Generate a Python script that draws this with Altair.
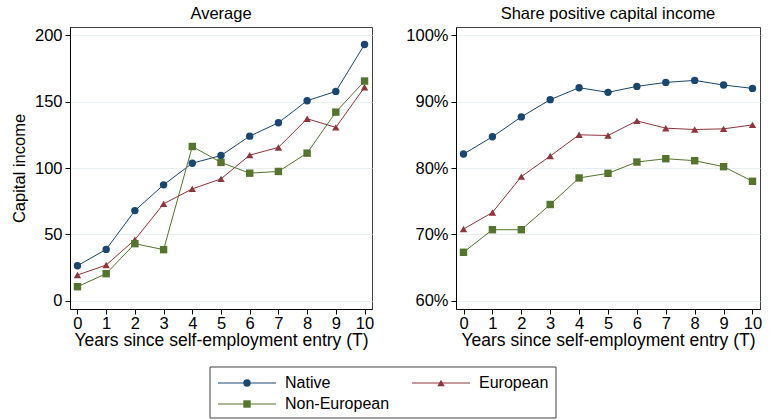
import altair as alt
import pandas as pd

years = list(range(11))
series = ["Native", "European", "Non-European"]

avg_native = [26.4, 38.7, 67.9, 87.3, 103.6, 109.4, 124.0, 134.1, 150.7, 157.7, 193.0]
avg_european = [19.4, 26.9, 46.0, 73.0, 84.3, 91.8, 109.7, 115.5, 137.1, 130.6, 160.8]
avg_noneuropean = [10.6, 20.4, 43.0, 38.5, 116.2, 104.2, 96.1, 97.4, 111.2, 142.1, 165.5]

share_native = [82.1, 84.7, 87.7, 90.3, 92.1, 91.4, 92.3, 92.9, 93.2, 92.5, 92.0]
share_european = [70.8, 73.3, 78.7, 81.8, 85.0, 84.9, 87.1, 86.0, 85.8, 85.9, 86.5]
share_noneuropean = [67.3, 70.7, 70.7, 74.5, 78.5, 79.2, 80.9, 81.4, 81.1, 80.2, 78.0]

avg_ticks = [0, 50, 100, 150, 200]
share_ticks = [0.6, 0.7, 0.8, 0.9, 1.0]

colors = ["#1a476f", "#90353b", "#55752f"]
shapes = ["circle", "triangle-up", "square"]
FONT = "Liberation Sans"


def long(vals_list, scale=1.0):
    rows = []
    for s, vals in zip(series, vals_list):
        for t, v in zip(years, vals):
            rows.append({"T": t, "value": v * scale, "group": s})
    return pd.DataFrame(rows)


avg_df = long([avg_native, avg_european, avg_noneuropean])
share_df = long([share_native, share_european, share_noneuropean], 0.01)

color = alt.Color("group:N", scale=alt.Scale(domain=series, range=colors), legend=None)
shape = alt.Shape("group:N", scale=alt.Scale(domain=series, range=shapes), legend=None)

xenc = alt.X(
    "T:Q",
    scale=alt.Scale(domain=[-0.26, 10.26], nice=False, zero=False),
    axis=alt.Axis(values=years, title="Years since self-employment entry (T)",
                  grid=False, format="d", labelFlush=False, titlePadding=0,
                  labelPadding=1, titleFontSize=17.5),
)


def panel(df, title, yenc, width):
    base = alt.Chart(df).encode(x=xenc, y=yenc, color=color)
    lines = base.mark_line(strokeWidth=1)
    pts = base.mark_point(filled=True, size=55, opacity=1).encode(shape=shape)
    return alt.layer(lines, pts).properties(
        width=width, height=282,
        title=alt.TitleParams(title, fontSize=16.5, fontWeight="normal", font=FONT,
                              color="black", anchor="middle", offset=5),
    )


left = panel(
    avg_df, "Average",
    alt.Y("value:Q", scale=alt.Scale(domain=[-6.2, 206.2], nice=False, zero=False),
          axis=alt.Axis(values=avg_ticks, title="Capital income", titlePadding=7)),
    302,
)
right = panel(
    share_df, "Share positive capital income",
    alt.Y("value:Q", scale=alt.Scale(domain=[0.5875, 1.0125], nice=False, zero=False),
          axis=alt.Axis(values=share_ticks, format=".0%", title=None)),
    304,
)

top = alt.hconcat(left, right, spacing=30).resolve_scale(x="independent", y="independent")

leg_df = pd.DataFrame({
    "group": series,
    "col": [i % 2 for i in range(len(series))],
    "row": [i // 2 for i in range(len(series))],
})
box_df = pd.DataFrame({"box": [0]})
LEFT = 140
lx = alt.X("col:Q", scale=alt.Scale(domain=[0, 1], range=[LEFT + 37, LEFT + 231]), axis=None)
ly = alt.Y("row:Q", scale=alt.Scale(domain=[0, 1], range=[16, 37]), axis=None)
leg_box = alt.Chart(box_df).mark_rect(fill="white", stroke="#404040", strokeWidth=1).encode(
    x=alt.value(LEFT), x2=alt.value(LEFT + 346), y=alt.value(0), y2=alt.value(51))
leg_rule = alt.Chart(leg_df).mark_rule(strokeWidth=1, xOffset=-29, x2Offset=29).encode(
    x=lx, x2="col:Q", y=ly, color=color)
leg_pts = alt.Chart(leg_df).mark_point(filled=True, size=55, opacity=1).encode(
    x=lx, y=ly, color=color, shape=shape)
leg_txt = alt.Chart(leg_df).mark_text(align="left", baseline="middle", dx=38, fontSize=16,
                                      font=FONT, color="black").encode(
    x=lx, y=ly, text="group:N")
legend = alt.layer(leg_box, leg_rule, leg_pts, leg_txt).properties(
    width=LEFT + 346, height=51, view=alt.ViewBackground(stroke="transparent"))

chart = alt.vconcat(top, legend, spacing=16).resolve_scale(
    x="independent", y="independent", color="shared", shape="shared"
).properties(
    padding={"left": 10, "top": 5, "right": 0, "bottom": 0},
    background="white",
).configure_view(
    stroke="#404040", strokeWidth=1
).configure_axis(
    domainColor="black", tickColor="black", tickSize=5, labelFontSize=16.5, titleFontSize=16.5,
    titleFontWeight="normal", labelColor="black", titleColor="black", labelFont=FONT,
    titleFont=FONT, gridColor="#e6eff2", labelPadding=3,
).configure_axisX(labelAngle=0).configure_text(font=FONT)

chart.save("out.html", embed_options={"renderer": "svg", "actions": False})
